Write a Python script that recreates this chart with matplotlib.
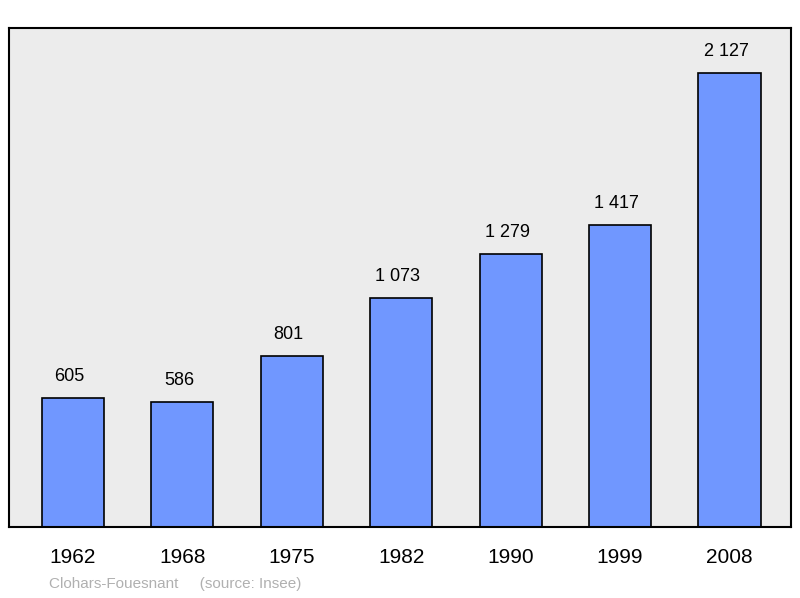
import matplotlib
matplotlib.use("Agg")
import matplotlib.pyplot as plt

years = ["1962", "1968", "1975", "1982", "1990", "1999", "2008"]
population = [605, 586, 801, 1073, 1279, 1417, 2127]
labels = ["605", "586", "801", "1 073", "1 279", "1 417", "2 127"]

plt.rcParams['font.family'] = ['Liberation Sans', 'DejaVu Sans']
fig = plt.figure(figsize=(8, 5.98), dpi=100)
ax = fig.add_axes([9/800, 1-527/598, 782/800, 499/598])
ax.set_facecolor('#ececec')
x = list(range(len(years)))
ax.bar(x, population, width=0.567, color='#7097ff', edgecolor='black', linewidth=1.2, zorder=2)
for xi, v, l in zip(x, population, labels):
    ax.text(xi - 0.03, v + 60, l, ha='center', va='bottom', fontsize=13)
ax.set_xlim(-0.585, 6.562)
ax.set_ylim(0, 2338)
ax.set_yticks([])
ax.set_xticks(x)
ax.set_xticklabels(years, fontsize=15)
ax.tick_params(axis='x', length=0, pad=15)
for s in ax.spines.values():
    s.set_linewidth(1.5)
fig.text(49/800, 1-584/598, "Clohars-Fouesnant     (source: Insee)", fontsize=11, color='#b0b0b0', va='center')
fig.savefig("out.png", dpi=100)
